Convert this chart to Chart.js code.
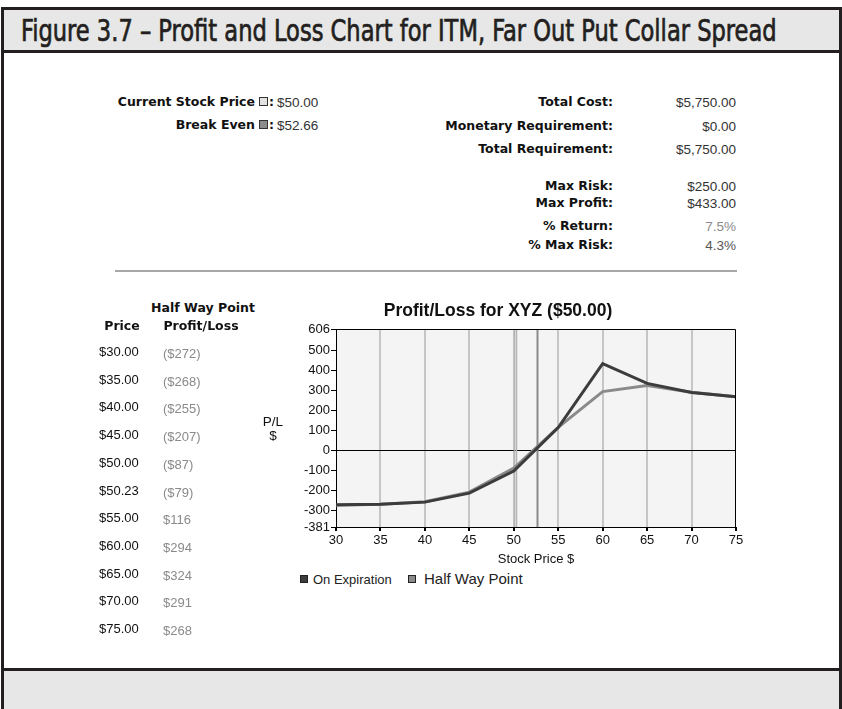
<!DOCTYPE html>
<html>
<head>
<meta charset="utf-8">
<script src="https://cdn.jsdelivr.net/npm/chart.js@4.4.1/dist/chart.umd.min.js"></script>
<style>
  html, body { margin: 0; padding: 0; }
  body { width: 842px; height: 709px; position: relative; overflow: hidden; background: #fff;
         font-family: "Liberation Sans", Arial, sans-serif; color: #111; }
  .abs { position: absolute; white-space: nowrap; line-height: 16px; }
  #frame { position: absolute; left: 1px; top: 7px; width: 841px; height: 702px; box-sizing: border-box;
           border-left: 3px solid #231f20; border-right: 3px solid #231f20; }
  #titleBand { position: absolute; left: 1px; top: 7px; width: 841px; height: 46px; box-sizing: border-box;
               background: #e6e7e6; border: 3px solid #231f20; }
  #bottomBand { position: absolute; left: 1px; top: 668px; width: 841px; height: 41px; box-sizing: border-box;
                background: #e6e7e6; border-top: 3px solid #231f20; border-left: 3px solid #231f20; border-right: 3px solid #231f20; }
  #figTitle { position: absolute; left: 21px; top: 12px; font-family: "Liberation Sans Narrow", "DejaVu Sans Condensed", sans-serif;
              font-size: 31px; font-weight: normal; -webkit-text-stroke: 0.7px #231f20; line-height: 36px; color: #231f20;
              transform-origin: 0 0; white-space: nowrap; }
  .lbl { font-family: "DejaVu Sans", sans-serif; font-weight: bold; font-size: 12.5px; color: #111; }
  .val { font-size: 13.5px; color: #333; }
  .box { display: inline-block; width: 7px; height: 7px; border: 1px solid #333; margin: 0 1px 0 4px; vertical-align: 0px; }
  #hr { position: absolute; left: 115px; top: 270px; width: 622px; height: 2px; background: #a8a8a8; }
  #chartWrap { position: absolute; left: 290px; top: 318px; width: 460px; height: 250px; }
  .leg { position: absolute; white-space: nowrap; line-height: 18px; color: #222; }
  .legBox { position: absolute; width: 6px; height: 6px; border: 1px solid #222; }
</style>
</head>
<body>
<div id="frame"></div>
<div id="titleBand"></div>
<div id="bottomBand"></div>
<div id="figTitle">Figure 3.7 – Profit and Loss Chart for ITM, Far Out Put Collar Spread</div>
<div id="hr"></div>
<div id="chartWrap"><canvas id="PLChart"></canvas></div>

<script>
(function () {
  "use strict";

  // summary block texts
  const leftLabels  = ['Current Stock Price', 'Break Even'];
  const leftValues  = ['$50.00', '$52.66'];
  const rightLabels = ['Total Cost:', 'Monetary Requirement:', 'Total Requirement:', 'Max Risk:', 'Max Profit:', '% Return:', '% Max Risk:'];
  const rightValues = ['$5,750.00', '$0.00', '$5,750.00', '$250.00', '$433.00', '7.5%', '4.3%'];

  // half way point table
  const tablePrices = ['$30.00', '$35.00', '$40.00', '$45.00', '$50.00', '$50.23', '$55.00', '$60.00', '$65.00', '$70.00', '$75.00'];
  const tablePL     = ['($272)', '($268)', '($255)', '($207)', '($87)', '($79)', '$116', '$294', '$324', '$291', '$268'];

  // chart data
  const expPrices  = [30, 35, 40, 45, 50, 55, 60, 65, 70, 75];
  const expValues  = [-270, -268, -257, -212, -102, 115, 433, 335, 290, 268];
  const halfPrices = [30, 35, 40, 45, 50, 50.23, 55, 60, 65, 70, 75];
  const halfValues = [-272, -268, -255, -207, -87, -79, 116, 294, 324, 291, 268];
  const yTickValues = [-381, -300, -200, -100, 0, 100, 200, 300, 400, 500, 606];
  const xTickValues = [30, 35, 40, 45, 50, 55, 60, 65, 70, 75];
  const markerPrices = [50, 50.23, 52.66];

  const body = document.body;
  function put(html, cls, x, y, align) {
    const d = document.createElement('div');
    d.className = 'abs ' + cls;
    d.innerHTML = html;
    d.style.top = (y - 8) + 'px';
    if (align === 'right') { d.style.right = (842 - x) + 'px'; d.style.textAlign = 'right'; }
    else if (align === 'center') { d.style.left = (x - 100) + 'px'; d.style.width = '200px'; d.style.textAlign = 'center'; }
    else { d.style.left = x + 'px'; }
    body.appendChild(d);
    return d;
  }

  // summary left
  const leftRowsY = [102, 125];
  const boxStyles = ['background:#e2e2e2', 'background:#8c8c8c'];
  leftLabels.forEach(function (t, i) {
    put(t + '<span class="box" style="' + boxStyles[i] + '"></span>:', 'lbl', 274, leftRowsY[i], 'right');
    put(leftValues[i], 'val', 277, leftRowsY[i] + 1, 'left');
  });
  // summary right
  const rightRowsY = [102, 126, 149, 186, 203, 226, 245];
  const valColors = ['#333', '#333', '#333', '#333', '#333', '#8a8a8a', '#555'];
  rightLabels.forEach(function (t, i) {
    put(t, 'lbl', 613, rightRowsY[i], 'right');
    const v = put(rightValues[i], 'val', 736, rightRowsY[i] + 1, 'right');
    v.style.color = valColors[i];
  });

  // table
  put('Half Way Point', 'lbl', 203, 308, 'center');
  put('Profit/Loss', 'lbl', 201, 326, 'center');
  put('Price', 'lbl', 122, 326, 'center');
  tablePrices.forEach(function (p, i) {
    const y = 352 + i * 27.7;
    const a = put(p, 'val', 99, y, 'left'); a.style.color = '#111'; a.style.fontSize = '13px';
    const b = put(tablePL[i], 'val', 163, y + 2, 'left'); b.style.color = '#8a8a8a'; b.style.fontSize = '13px';
  });
  put('P/L', 'val', 273, 422, 'center').style.color = '#111';
  put('$', 'val', 273, 436, 'center').style.color = '#111';

  // chart title + legend
  const ct = put('Profit/Loss for XYZ ($50.00)', '', 498, 310, 'center');
  ct.style.fontSize = '17.5px'; ct.style.fontWeight = 'bold'; ct.style.left = '348px'; ct.style.width = '300px';
  const lg1 = document.createElement('div'); lg1.className = 'legBox';
  lg1.style.left = '300px'; lg1.style.top = '575px'; lg1.style.background = '#3c3c3c'; body.appendChild(lg1);
  const lt1 = put('On Expiration', 'leg', 313, 579, 'left'); lt1.style.fontSize = '13px';
  const lg2 = document.createElement('div'); lg2.className = 'legBox';
  lg2.style.left = '408px'; lg2.style.top = '575px'; lg2.style.background = '#8a8a8a'; body.appendChild(lg2);
  const lt2 = put('Half Way Point', 'leg', 424, 578, 'left'); lt2.style.fontSize = '15px';

  // fit figure title width
  const ft = document.getElementById('figTitle');
  ft.style.transform = 'scaleX(' + (756 / ft.offsetWidth) + ')';

  // plot background, markers and frame
  const plotDecor = {
    id: 'plotDecor',
    beforeDraw: function (chart) {
      const a = chart.chartArea, c = chart.ctx;
      c.save();
      c.fillStyle = '#f4f4f4';
      c.fillRect(a.left, a.top, a.right - a.left, a.bottom - a.top);
      c.restore();
    },
    beforeDatasetsDraw: function (chart) {
      const a = chart.chartArea, c = chart.ctx, xs = chart.scales.x;
      c.save();
      markerPrices.forEach(function (p, i) {
        const px = Math.round(xs.getPixelForValue(p)) + 0.5;
        c.strokeStyle = i === 2 ? '#8a8a8a' : '#b4b4b4';
        c.lineWidth = i === 2 ? 2 : 1.5;
        c.beginPath(); c.moveTo(px, a.top); c.lineTo(px, a.bottom); c.stroke();
      });
      c.restore();
    },
    afterDraw: function (chart) {
      const a = chart.chartArea, c = chart.ctx;
      c.save();
      c.strokeStyle = '#000'; c.lineWidth = 1;
      c.beginPath();
      c.moveTo(a.left, a.top + 0.5); c.lineTo(a.right - 0.5, a.top + 0.5); c.lineTo(a.right - 0.5, a.bottom);
      c.stroke();
      c.restore();
    }
  };

  const ctx = document.getElementById('PLChart').getContext('2d');
  new Chart(ctx, {
    type: 'line',
    data: {
      datasets: [{
        label: 'On Expiration',
        data: expPrices.map(function (p, i) { return { x: p, y: expValues[i] }; }),
        borderColor: '#3c3c3c',
        backgroundColor: '#3c3c3c',
        borderWidth: 3,
        pointRadius: 0,
        tension: 0
      }, {
        label: 'Half Way Point',
        data: halfPrices.map(function (p, i) { return { x: p, y: halfValues[i] }; }),
        borderColor: '#8a8a8a',
        backgroundColor: '#8a8a8a',
        borderWidth: 3,
        pointRadius: 0,
        tension: 0
      }]
    },
    options: {
      responsive: true,
      maintainAspectRatio: false,
      animation: false,
      layout: { padding: { top: 11, right: 14, left: 0, bottom: 0 } },
      plugins: {
        legend: { display: false },
        title: { display: false },
        tooltip: { enabled: false }
      },
      scales: {
        x: {
          type: 'linear',
          min: 30,
          max: 75,
          afterBuildTicks: function (s) { s.ticks = xTickValues.map(function (v) { return { value: v }; }); },
          afterFit: function (s) { s.height = 41; },
          ticks: { color: '#111', font: { family: 'Liberation Sans', size: 13 }, padding: 2, maxRotation: 0 },
          grid: {
            color: function (c) { return (c.tick && (c.tick.value === 30 || c.tick.value === 75)) ? 'rgba(0,0,0,0)' : '#c6c6c6'; },
            lineWidth: 2,
            tickColor: '#000',
            tickLength: 4
          },
          border: { display: true, color: '#000', width: 1 },
          title: { display: true, text: 'Stock Price $', color: '#111', font: { family: 'Liberation Sans', size: 13 }, padding: { top: 0, bottom: 1 } }
        },
        y: {
          type: 'linear',
          min: -381,
          max: 606,
          afterBuildTicks: function (s) { s.ticks = yTickValues.map(function (v) { return { value: v }; }); },
          afterFit: function (s) { s.width = 46; },
          ticks: { color: '#111', font: { family: 'Liberation Sans', size: 13 }, padding: 1 },
          grid: {
            color: function (c) { return (c.tick && c.tick.value === 0) ? '#000' : 'rgba(0,0,0,0)'; },
            lineWidth: 1,
            tickColor: '#000',
            tickLength: 5
          },
          border: { display: true, color: '#000', width: 1 }
        }
      }
    },
    plugins: [plotDecor]
  });
})();
</script>
</body>
</html>
